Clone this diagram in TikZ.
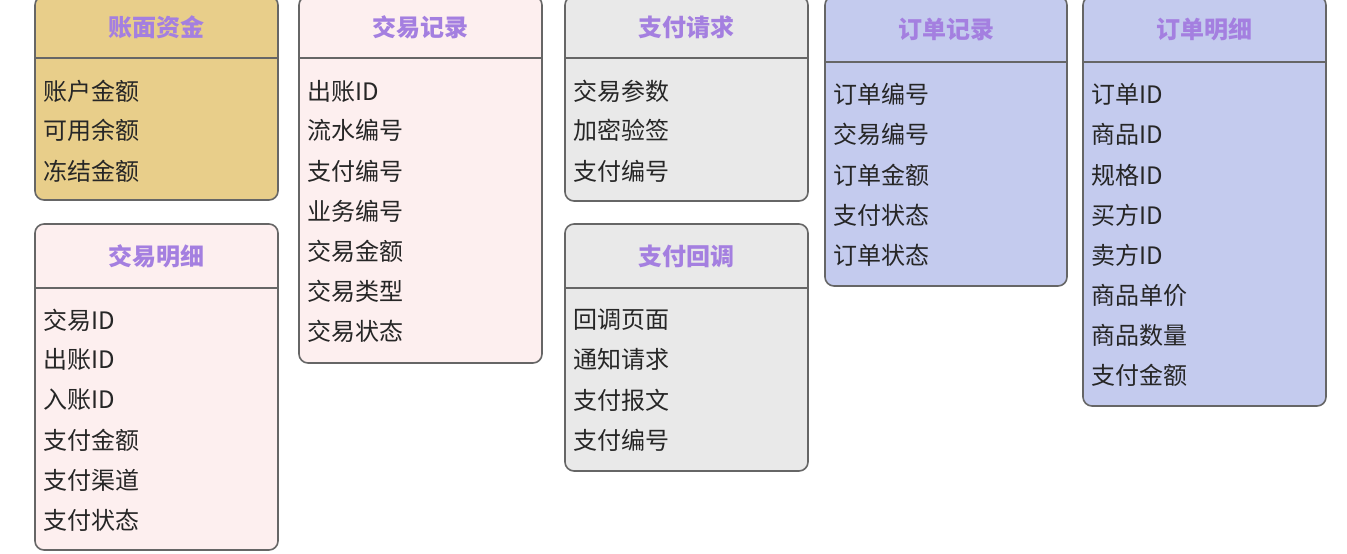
\documentclass[tikz,border=0pt]{standalone}
\usepackage{fontspec}
\setmainfont{Noto Sans CJK SC}
\definecolor{gold}{HTML}{E8CE8A}
\definecolor{pinkf}{HTML}{FDEFEF}
\definecolor{grayf}{HTML}{E9E9E9}
\definecolor{bluef}{HTML}{C4CBEE}
\definecolor{ttl}{HTML}{A47FE0}
\definecolor{edge}{HTML}{666666}
\begin{document}
\begin{tikzpicture}[x=1pt,y=-1pt,
  tbl/.style={draw=edge,line width=1.6pt,rounded corners=9pt},
  ttlt/.style={text=ttl,font=\fontsize{24}{24}\selectfont\bfseries,anchor=center},
  row/.style={anchor=west,font=\fontsize{24}{24}\selectfont,text=black!85,inner sep=0pt}]
\useasboundingbox (0,0) rectangle (1347,554);
\newcommand\mktable[8]{% name,x1,y1,x2,y2,liney,fill,title
  \filldraw[tbl,fill=#7] (#2,#3) rectangle (#4,#5);
  \draw[edge,line width=1.6pt] (#2,#6) -- (#4,#6);
  \node[ttlt] (#1t) at ({(#2+#4)/2},{(#3+#6)/2}) {#8};
}
\newcommand\rows[3]{% name, x, list y/text
  \foreach \yy/\tt [count=\i] in {#3} \node[row] (#1r\i) at (#2,\yy) {\tt};
}
\mktable{a}{35}{-4}{278}{200}{58}{gold}{账面资金}
\rows{a}{43}{91/账户金额,130/可用余额,171/冻结金额}
\mktable{b}{35}{224}{278}{550}{288}{pinkf}{交易明细}
\rows{b}{43}{320/交易ID,359/出账ID,400/入账ID,440/支付金额,480/支付渠道,520/支付状态}
\mktable{c}{299}{-4}{542}{363}{58}{pinkf}{交易记录}
\rows{c}{307}{91/出账ID,130/流水编号,171/支付编号,211/业务编号,251/交易金额,291/交易类型,331/交易状态}
\mktable{d}{565}{-4}{808}{201}{58}{grayf}{支付请求}
\rows{d}{573}{91/交易参数,130/加密验签,171/支付编号}
\mktable{e}{565}{224}{808}{471}{288}{grayf}{支付回调}
\rows{e}{573}{320/回调页面,359/通知请求,400/支付报文,440/支付编号}
\mktable{f}{825}{-4}{1067}{286}{62}{bluef}{订单记录}
\rows{f}{833}{94/订单编号,134/交易编号,175/订单金额,215/支付状态,255/订单状态}
\mktable{g}{1083}{-4}{1326}{406}{62}{bluef}{订单明细}
\rows{g}{1091}{94/订单ID,134/商品ID,175/规格ID,215/买方ID,255/卖方ID,295/商品单价,335/商品数量,375/支付金额}
\end{tikzpicture}
\end{document}
